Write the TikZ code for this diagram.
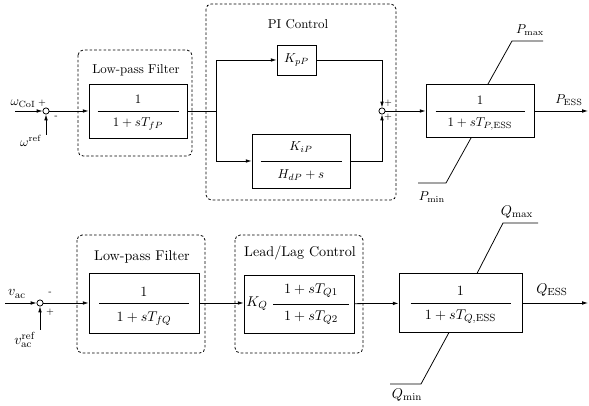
\documentclass[tikz,border=0pt]{standalone}
\usetikzlibrary{arrows.meta,calc}
\begin{document}
\begin{tikzpicture}[x=0.775pt,y=-0.775pt,
  wire/.style={line width=0.6pt},
  arr/.style={wire,-{Latex[length=4.5pt,width=2.8pt]}},
  blk/.style={draw,line width=0.6pt,inner sep=0pt},
  bx/.style 2 args={minimum width=#1*0.775pt,minimum height=#2*0.775pt},
  grp/.style={draw,line width=0.6pt,dash pattern=on 2pt off 1.6pt,rounded corners=4pt},
  sumj/.style={draw,circle,line width=0.6pt,minimum size=4.8pt,inner sep=0pt},
  fracbar/.style={line width=0.5pt},
  sgn/.style={font=\scriptsize,inner sep=0pt},
  big/.style={font=\fontsize{10.95}{13}\selectfont}]
\useasboundingbox (0,0) rectangle (589,406);

% ---------------- active power loop ----------------
\draw[grp] (78,50) rectangle (192,156);
\node (lpfP) at (136,70) {Low-pass Filter};
\draw[grp] (206,4) rectangle (396,200);
\node (piP) at (298,24) {PI Control};

\node[sumj] (s1) at (46,111) {};
\coordinate (inP) at (15,111);
\coordinate (refP) at (46,135);
\node (wcoi) at (23,104) {$\omega_{\mathrm{CoI}}$};
\node (wref) at (31,141) {$\omega^{\mathrm{ref}}$};
\node[sgn] (s1p) at (42,103) {$+$};
\node[sgn] (s1m) at (56,117) {-};

\node[blk,bx={98}{54}] (f1) at (138,111) {};
\draw[fracbar] ($(f1.center)+(-40.5,0)$) -- ++(81,0);
\node (f1n) at ($(f1.center)+(0,-12)$) {$1$};
\node (f1d) at ($(f1.center)+(0,13)$) {$1+sT_{fP}$};

\node[blk,bx={39}{30}] (kp) at (296.5,60) {$K_{pP}$};
\node[blk,bx={98}{54}] (ki) at (301,161) {};
\draw[fracbar] ($(ki.center)+(-40.5,0)$) -- ++(81,0);
\node (kin) at ($(ki.center)+(0,-14)$) {$K_{iP}$};
\node (kid) at ($(ki.center)+(0,14)$) {$H_{dP}+s$};

\node[sumj] (s2) at (382,111) {};
\node[sgn] (s2a) at (388,103) {$+$};
\node[sgn] (s2b) at (388,117) {$+$};

\node[blk,bx={108}{53}] (satP) at (480,111) {};
\draw[fracbar] ($(satP.center)+(-44.5,0)$) -- ++(89,0);
\node (satPn) at ($(satP.center)+(0,-11)$) {$1$};
\node (satPd) at ($(satP.center)+(0,13)$) {$1+sT_{P,\mathrm{ESS}}$};
\coordinate (outP) at (588,111);
\node (pess) at (569,100) {$P_{\mathrm{ESS}}$};

\coordinate (pmaxA) at (488,84);
\coordinate (pmaxB) at (512,41);
\coordinate (pmaxC) at (543,41);
\node (pmax) at (530,30) {$P_{\max}$};
\coordinate (pminA) at (471,138);
\coordinate (pminB) at (446,183);
\coordinate (pminC) at (418,183);
\node (pmin) at (432,197) {$P_{\min}$};

\coordinate (br) at (216,111);
\draw[arr] (inP) -- (s1);
\draw[arr] (refP) -- (s1);
\draw[arr] (s1) -- (f1);
\draw[wire] (f1) -- (br);
\draw[arr] (br) |- (kp);
\draw[arr] (br) |- (ki);
\draw[arr] (kp) -| (s2);
\draw[arr] (ki) -| (s2);
\draw[arr] (s2) -- (satP);
\draw[arr] (satP) -- (outP);
\draw[wire] (pmaxA) -- (pmaxB) -- (pmaxC);
\draw[wire] (pminA) -- (pminB) -- (pminC);

% ---------------- reactive power loop ----------------
\begin{scope}[every node/.append style={big}]
\draw[grp] (77,235) rectangle (205,353);
\node (lpfQ) at (142,257) {Low-pass Filter};
\draw[grp] (235,235) rectangle (363,353);
\node (llQ) at (300,253) {Lead/Lag Control};

\node[sumj] (s3) at (40,303) {};
\coordinate (inQ) at (5,303);
\coordinate (refQ) at (40,330);
\node (vac) at (17,294) {$v_{\mathrm{ac}}$};
\node[inner sep=1pt] (vref) at (25,340) {$v_{\mathrm{ac}}^{\mathrm{ref}}$};
\node[sgn] (s3m) at (50,293) {-};
\node[sgn] (s3p) at (50,312) {$+$};

\node[blk,bx={110}{60}] (f2) at (144,303) {};
\draw[fracbar] ($(f2.center)+(-45,0)$) -- ++(90,0);
\node (f2n) at ($(f2.center)+(0,-11)$) {$1$};
\node (f2d) at ($(f2.center)+(0,16)$) {$1+sT_{fQ}$};

\node[blk,bx={110}{58}] (ll) at (299,304) {};
\node (kq) at (257,304) {$K_Q$};
\draw[fracbar] (273,304) -- (349,304);
\node (lln) at (311,291) {$1+sT_{Q1}$};
\node (lld) at (311,318) {$1+sT_{Q2}$};

\node[blk,bx={123}{59}] (satQ) at (460.5,303) {};
\draw[fracbar] ($(satQ.center)+(-50,0)$) -- ++(100,0);
\node (satQn) at ($(satQ.center)+(0,-12)$) {$1$};
\node (satQd) at ($(satQ.center)+(0,14)$) {$1+sT_{Q,\mathrm{ESS}}$};
\coordinate (outQ) at (588,303);
\node (qess) at (552,290) {$Q_{\mathrm{ESS}}$};

\coordinate (qmaxA) at (477,273.5);
\coordinate (qmaxB) at (503,223);
\coordinate (qmaxC) at (538,223);
\node (qmax) at (517,212) {$Q_{\max}$};
\coordinate (qminA) at (449,332.5);
\coordinate (qminB) at (421,384);
\coordinate (qminC) at (390,384);
\node (qmin) at (407,395) {$Q_{\min}$};
\end{scope}

\draw[arr] (inQ) -- (s3);
\draw[arr] (refQ) -- (s3);
\draw[arr] (s3) -- (f2);
\draw[arr] (f2) -- (f2 -| ll.west);
\draw[arr] (ll) -- (satQ);
\draw[arr] (satQ) -- (outQ);
\draw[wire] (qmaxA) -- (qmaxB) -- (qmaxC);
\draw[wire] (qminA) -- (qminB) -- (qminC);
\end{tikzpicture}
\end{document}
